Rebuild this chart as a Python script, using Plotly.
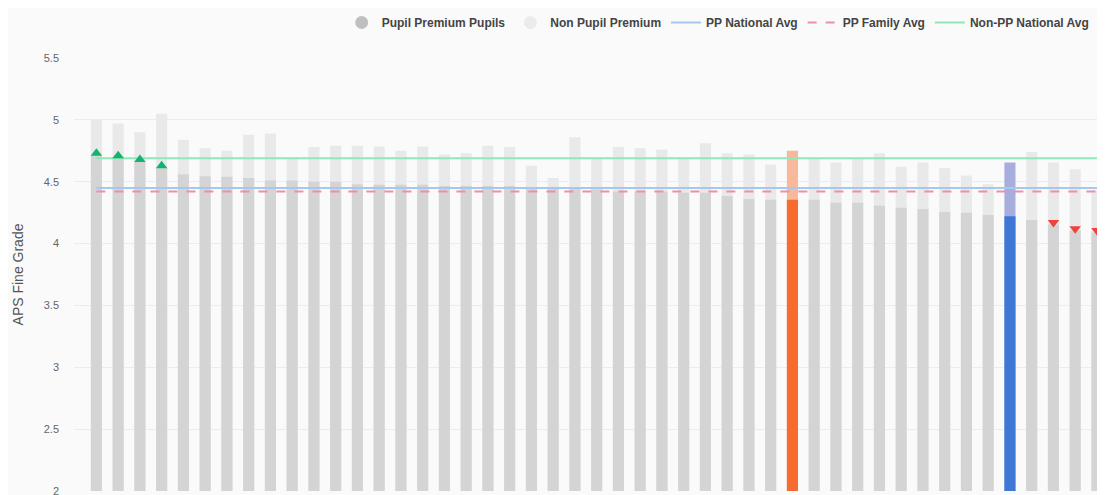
import plotly.graph_objects as go

# ---- data ----
pp_values = [4.71, 4.69, 4.66, 4.61, 4.56, 4.545, 4.54, 4.53, 4.51, 4.51,
             4.50, 4.50, 4.48, 4.475, 4.475, 4.475, 4.465, 4.465, 4.465, 4.465,
             4.455, 4.455, 4.45, 4.44, 4.42, 4.42, 4.42, 4.41, 4.41, 4.385,
             4.36, 4.355, 4.355, 4.355, 4.33, 4.33, 4.305, 4.29, 4.28, 4.255,
             4.25, 4.23, 4.22, 4.19, 4.155, 4.105, 4.09]
non_pp_values = [5.00, 4.97, 4.90, 5.05, 4.84, 4.77, 4.75, 4.88, 4.89, 4.69,
                 4.78, 4.79, 4.79, 4.785, 4.75, 4.785, 4.72, 4.73, 4.79, 4.78,
                 4.63, 4.53, 4.86, 4.69, 4.78, 4.77, 4.76, 4.69, 4.81, 4.73,
                 4.72, 4.64, 4.75, 4.69, 4.655, 4.69, 4.73, 4.62, 4.655, 4.61,
                 4.55, 4.48, 4.655, 4.74, 4.655, 4.60, 4.43]
pp_national_avg = 4.45
pp_family_avg = 4.42
non_pp_national_avg = 4.69
highlight_orange = 32
highlight_blue = 42
above_idx = [0, 1, 2, 3]
below_idx = [44, 45, 46]
y_ticks = [2, 2.5, 3, 3.5, 4, 4.5, 5, 5.5]
y_tick_text = ["2", "2.5", "3", "3.5", "4", "4.5", "5", "5.5"]

n = len(pp_values)
xs = list(range(n))

PP_GREY = "#d4d4d4"
NON_GREY = "#e9e9e9"
pp_colors = [PP_GREY] * n
non_colors = [NON_GREY] * n
pp_colors[highlight_orange] = "#f76b2f"
non_colors[highlight_orange] = "#f7b89b"
pp_colors[highlight_blue] = "#3f77d6"
non_colors[highlight_blue] = "#a7addc"

fig = go.Figure()

fig.add_trace(go.Bar(x=xs, y=non_pp_values, marker=dict(color=non_colors, line=dict(width=0)),
                     showlegend=False, name="Non Pupil Premium"))
fig.add_trace(go.Bar(x=xs, y=pp_values, marker=dict(color=pp_colors, line=dict(width=0)),
                     showlegend=False, name="Pupil Premium Pupils"))

# legend-only entries with circle symbols
fig.add_trace(go.Scatter(x=[None], y=[None], mode="markers", name="Pupil Premium Pupils",
                         marker=dict(symbol="circle", size=13, color="#bfbfbf")))
fig.add_trace(go.Scatter(x=[None], y=[None], mode="markers", name="Non Pupil Premium",
                         marker=dict(symbol="circle", size=13, color="#ebebeb")))

fig.add_trace(go.Scatter(x=xs, y=[pp_national_avg] * n, mode="lines", name="PP National Avg",
                         line=dict(color="#a9c6ee", width=2)))
fig.add_trace(go.Scatter(x=xs, y=[pp_family_avg] * n, mode="lines", name="PP Family Avg",
                         line=dict(color="#ec8fa8", width=2, dash="dash")))
fig.add_trace(go.Scatter(x=xs, y=[non_pp_national_avg] * n, mode="lines", name="Non-PP National Avg",
                         line=dict(color="#8ee8b8", width=2)))

fig.add_trace(go.Scatter(x=above_idx, y=[pp_values[i] + 0.02 for i in above_idx], mode="markers",
                         showlegend=False, marker=dict(symbol="triangle-up", size=10, color="#12b36f")))
fig.add_trace(go.Scatter(x=below_idx, y=[pp_values[i] + 0.015 for i in below_idx], mode="markers",
                         showlegend=False, marker=dict(symbol="triangle-down", size=10, color="#f0413a")))

fig.update_layout(
    width=1097, height=487,
    margin=dict(l=66, r=0, t=49, b=4),
    paper_bgcolor="#fafafa", plot_bgcolor="#fafafa",
    barmode="overlay", bargap=0.49,
    font=dict(family="Liberation Sans, Arial, sans-serif", color="#555555"),
    legend=dict(orientation="h", x=0.99, xanchor="right", y=1.083, yanchor="middle",
                font=dict(size=12, color="#444444", weight="bold"), itemwidth=30,
                bgcolor="rgba(0,0,0,0)"),
    xaxis=dict(range=[-1.03, 46.37], showticklabels=False, showgrid=False, zeroline=False,
               showline=False, fixedrange=True),
    yaxis=dict(range=[2, 5.5], tickvals=y_ticks, ticktext=y_tick_text, showgrid=True,
               gridcolor="#ececec", gridwidth=1, zeroline=False, showline=False,
               tickfont=dict(size=11, color="#666666"), ticklabelstandoff=14,
               ticklabeloverflow="allow",
               title=dict(text="APS Fine Grade", font=dict(size=14, color="#555555"), standoff=16),
               automargin=False),
    hovermode=False,
)

fig.write_html("out.html")
